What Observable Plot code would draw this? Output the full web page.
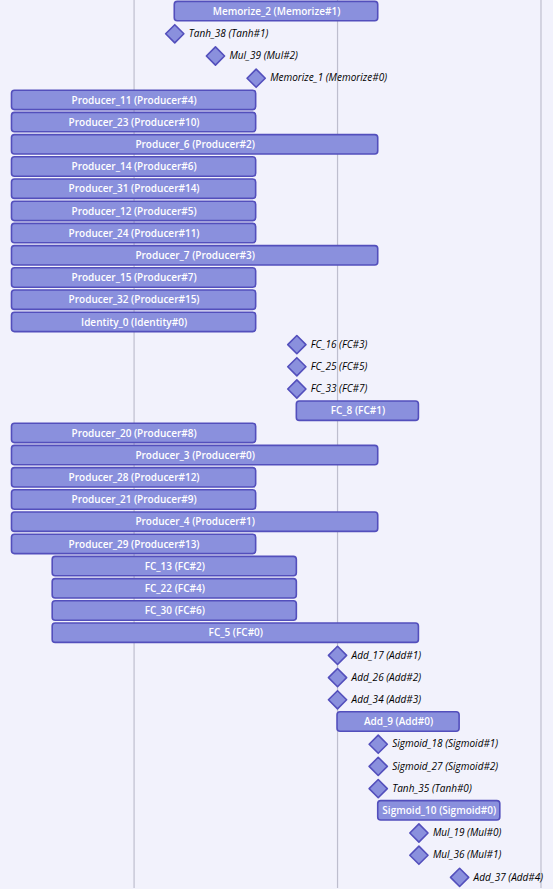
<!DOCTYPE html>
<html>
<head>
<meta charset="utf-8">
<script src="https://cdn.jsdelivr.net/npm/d3@7"></script>
<script src="https://cdn.jsdelivr.net/npm/@observablehq/plot@0.6"></script>
<style>
  html, body { margin: 0; padding: 0; background: #f2f2fc; overflow: hidden; }
  #chart svg { display: block; max-width: none !important; }
</style>
</head>
<body>
<div id="chart"></div>
<script>
// Task labels, in row order (top to bottom)
const labels = [
  "Memorize_2 (Memorize#1)", "Tanh_38 (Tanh#1)", "Mul_39 (Mul#2)", "Memorize_1 (Memorize#0)",
  "Producer_11 (Producer#4)", "Producer_23 (Producer#10)", "Producer_6 (Producer#2)",
  "Producer_14 (Producer#6)", "Producer_31 (Producer#14)", "Producer_12 (Producer#5)",
  "Producer_24 (Producer#11)", "Producer_7 (Producer#3)", "Producer_15 (Producer#7)",
  "Producer_32 (Producer#15)", "Identity_0 (Identity#0)",
  "FC_16 (FC#3)", "FC_25 (FC#5)", "FC_33 (FC#7)", "FC_8 (FC#1)",
  "Producer_20 (Producer#8)", "Producer_3 (Producer#0)", "Producer_28 (Producer#12)",
  "Producer_21 (Producer#9)", "Producer_4 (Producer#1)", "Producer_29 (Producer#13)",
  "FC_13 (FC#2)", "FC_22 (FC#4)", "FC_30 (FC#6)", "FC_5 (FC#0)",
  "Add_17 (Add#1)", "Add_26 (Add#2)", "Add_34 (Add#3)", "Add_9 (Add#0)",
  "Sigmoid_18 (Sigmoid#1)", "Sigmoid_27 (Sigmoid#2)", "Tanh_35 (Tanh#0)", "Sigmoid_10 (Sigmoid#0)",
  "Mul_19 (Mul#0)", "Mul_36 (Mul#1)", "Add_37 (Add#4)"
];
// Start times (time units)
const starts = [
  4, 4, 5, 6,
  0, 0, 0, 0, 0, 0, 0, 0, 0, 0, 0,
  7, 7, 7, 7,
  0, 0, 0, 0, 0, 0,
  1, 1, 1, 1,
  8, 8, 8, 8,
  9, 9, 9, 9,
  10, 10, 11
];
// End times (null = milestone)
const ends = [
  9, null, null, null,
  6, 6, 9, 6, 6, 6, 6, 9, 6, 6, 6,
  null, null, null, 10,
  6, 9, 6, 6, 9, 6,
  7, 7, 7, 10,
  null, null, null, 11,
  null, null, null, 12,
  null, null, null
];
// Grid tick positions
const gridTicks = [3, 8, 13];

const rows = labels.map((label, i) => ({label, start: starts[i], end: ends[i]}));
const bars = rows.filter(d => d.end != null);
const milestones = rows.filter(d => d.end == null);

const font = "'Open Sans', 'Noto Sans', sans-serif";

const chart = Plot.plot({
  width: 553,
  height: 889,
  marginLeft: 11.5,
  marginRight: 0.3,
  marginTop: 0,
  marginBottom: 1,
  x: {domain: [0, 13.3], axis: null},
  y: {domain: labels, axis: null, padding: 0, round: false},
  style: {background: "#f2f2fc", fontFamily: font, fontSize: "10px", overflow: "visible"},
  marks: [
    Plot.ruleX(gridTicks, {stroke: "#bebece", strokeWidth: 1.2}),
    Plot.barX(bars, {
      x1: "start", x2: "end", y: "label",
      fill: "#8a90dd", stroke: "#534fbc", strokeWidth: 1.6,
      rx: 3, insetTop: 1.4, insetBottom: 1.4
    }),
    Plot.text(bars, {
      x: d => (d.start + d.end) / 2, y: "label", text: "label",
      fill: "white", fontWeight: 600, fontSize: 10
    }),
    Plot.dot(milestones, {
      x: "start", y: "label", symbol: "diamond2", r: 8.2,
      fill: "#8a90dd", stroke: "#534fbc", strokeWidth: 1.6, strokeLinejoin: "round"
    }),
    Plot.text(milestones, {
      x: "start", y: "label", text: "label", dx: 14, textAnchor: "start",
      fontStyle: "italic", fill: "#000", fontSize: 10
    })
  ]
});
document.getElementById("chart").append(chart);
</script>
</body>
</html>
